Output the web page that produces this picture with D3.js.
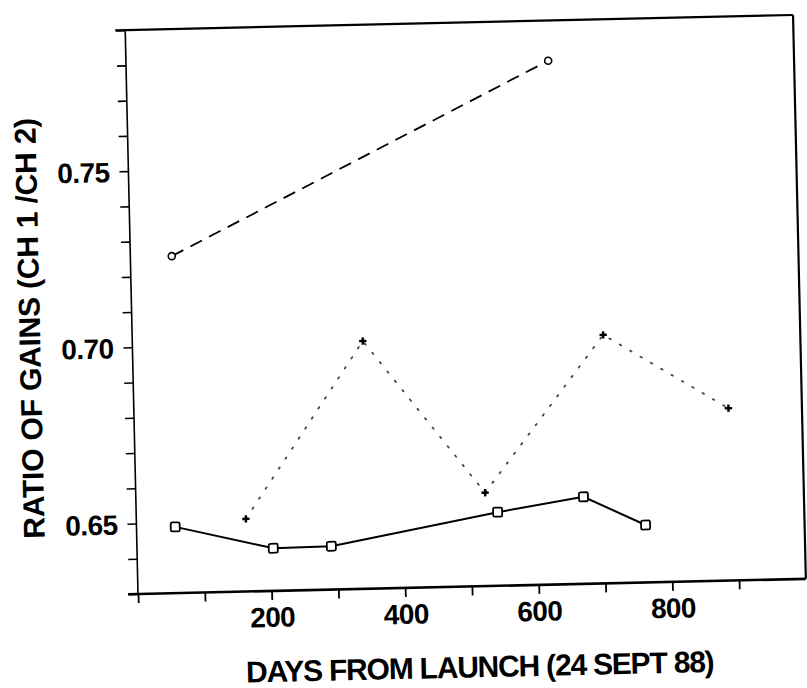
<!DOCTYPE html>
<html>
<head>
<meta charset="utf-8">
<script src="https://cdn.jsdelivr.net/npm/d3@7/dist/d3.min.js"></script>
<style>
  html, body { margin: 0; padding: 0; background: #fff; }
  text { font-family: "Liberation Sans", Arial, Helvetica, sans-serif; font-weight: bold; fill: #000; }
</style>
</head>
<body>
<svg id="chart" width="807" height="688"></svg>
<script>
// ---- data ----
const daysA  = [62, 632];
const ratioA = [0.7256, 0.7786];

const daysB  = [164, 345, 523, 705, 890];
const ratioB = [0.6506, 0.7003, 0.6565, 0.7005, 0.6789];

const daysC  = [58, 204, 291, 541, 670, 762];
const ratioC = [0.6488, 0.6421, 0.6423, 0.6509, 0.6547, 0.6463];

const xDomain = [0, 1000];
const yDomain = [0.63, 0.79];
const xTickValues = [0, 100, 200, 300, 400, 500, 600, 700, 800, 900];
const xTickLabels = [200, 400, 600, 800];
const yTickValues = [0.63, 0.64, 0.65, 0.66, 0.67, 0.68, 0.69, 0.70, 0.71, 0.72, 0.73, 0.74, 0.75, 0.76, 0.77, 0.78, 0.79];
const yTickLabels = [0.65, 0.70, 0.75];

const xTitle = "DAYS FROM LAUNCH (24 SEPT 88)";
const yTitle = "RATIO OF GAINS (CH 1 /CH 2)";

// ---- layout ----
const W = 668, H = 564;
const svg = d3.select("#chart");
const g = svg.append("g").attr("transform", "translate(138,594) rotate(-1.3)");

const x = d3.scaleLinear().domain(xDomain).range([0, W]);
const y = d3.scaleLinear().domain(yDomain).range([0, -H]);

// frame: top and right
g.append("line").attr("x1", -10).attr("x2", W).attr("y1", -H).attr("y2", -H)
  .attr("stroke", "#000").attr("stroke-width", 2.2);
g.append("line").attr("x1", W).attr("x2", W).attr("y1", -H).attr("y2", 0)
  .attr("stroke", "#000").attr("stroke-width", 2.2);

// x axis
const xAxis = d3.axisBottom(x).tickValues(xTickValues).tickSize(9)
  .tickFormat(d => xTickLabels.includes(d) ? d : "");
const gx = g.append("g").call(xAxis);
gx.select(".domain").attr("stroke-width", 2.6).attr("d", `M-10,0H${W}`);
gx.selectAll(".tick line").attr("stroke-width", 1.8);
gx.selectAll(".tick text").attr("font-size", 28).attr("dy", 0).attr("y", 36)
  .attr("font-family", "Liberation Sans, Arial, sans-serif").attr("font-weight", "bold")
  .attr("letter-spacing", -0.6);

// y axis
const yAxis = d3.axisLeft(y).tickValues(yTickValues).tickSize(9)
  .tickFormat(d => yTickLabels.some(v => Math.abs(v - d) < 1e-9) ? d3.format(".2f")(d) : "");
const gy = g.append("g").call(yAxis);
gy.select(".domain").attr("stroke-width", 1.6).attr("d", `M0,0V${-H}`);
gy.selectAll(".tick line").attr("stroke-width", 1.6);
gy.selectAll(".tick text").attr("font-size", 28).attr("x", -19).attr("dy", "0.36em")
  .attr("font-family", "Liberation Sans, Arial, sans-serif").attr("font-weight", "bold")
  .attr("letter-spacing", -0.6);

// titles
g.append("text").attr("x", 340).attr("y", 91).attr("text-anchor", "middle")
  .attr("font-size", 30).attr("letter-spacing", -1.2).text(xTitle);
g.append("text").attr("transform", "translate(-92,-268) rotate(-90)")
  .attr("text-anchor", "middle").attr("font-size", 30).attr("letter-spacing", -0.2).text(yTitle);

// series
const line = d3.line().x(d => x(d[0])).y(d => y(d[1]));
const dataA = daysA.map((d, i) => [d, ratioA[i]]);
const dataB = daysB.map((d, i) => [d, ratioB[i]]);
const dataC = daysC.map((d, i) => [d, ratioC[i]]);

g.append("path").datum(dataA).attr("d", line).attr("fill", "none")
  .attr("stroke", "#000").attr("stroke-width", 1.8).attr("stroke-dasharray", "13,8");
g.append("path").datum(dataB).attr("d", line).attr("fill", "none")
  .attr("stroke", "#444").attr("stroke-width", 1.8).attr("stroke-dasharray", "1.6,10.4")
  .attr("stroke-linecap", "round");
g.append("path").datum(dataC).attr("d", line).attr("fill", "none")
  .attr("stroke", "#000").attr("stroke-width", 2);

// markers
g.selectAll(".mA").data(dataA).join("circle").attr("class", "mA")
  .attr("cx", d => x(d[0])).attr("cy", d => y(d[1])).attr("r", 3.5)
  .attr("fill", "#fff").attr("stroke", "#000").attr("stroke-width", 1.6);
g.selectAll(".mB").data(dataB).join("path").attr("class", "mB")
  .attr("transform", d => `translate(${x(d[0])},${y(d[1])})`)
  .attr("d", d3.symbol(d3.symbolCross, 30)).attr("fill", "#000");
g.selectAll(".mC").data(dataC).join("rect").attr("class", "mC")
  .attr("x", d => x(d[0]) - 4.5).attr("y", d => y(d[1]) - 4.5)
  .attr("width", 9).attr("height", 9).attr("rx", 1.5)
  .attr("fill", "#fff").attr("stroke", "#000").attr("stroke-width", 1.8);
</script>
</body>
</html>
